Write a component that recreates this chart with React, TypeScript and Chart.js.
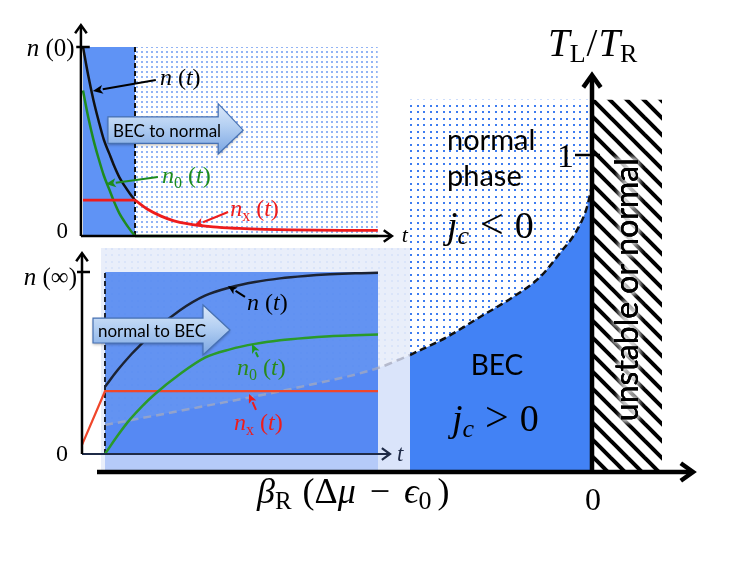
import React, { useEffect, useRef } from "react";
import { Chart, registerables } from "chart.js";
Chart.register(...registerables);

const W = 747;
const H = 561;
const SERIF = '"Liberation Serif", "DejaVu Serif", serif';
const SANS = 'Lato, "Open Sans", sans-serif';

// ---- Main phase diagram: x = beta_R (dmu - eps0), y = T_L / T_R ----
const BOUNDARY_X = [-4.87, -3.92, -2.92, -2.14, -1.82, -1.45, -1.12, -0.79, -0.52, -0.32, -0.15, -0.05, 0];
const BOUNDARY_Y = [0.148, 0.205, 0.268, 0.328, 0.369, 0.426, 0.489, 0.552, 0.615, 0.691, 0.763, 0.836, 0.905];
const INSET_EDGE_INDEX = 4; // boundary point where the lower inset panel ends
const INSET_BOX_INDEX = 3; // boundary point at the right edge of the inset's blue box
const NORMAL_TOP = 1.174;
const HATCH_RIGHT = 0.7;
const INSET_PANEL_X = [-4.91, -1.82];
const INSET_PANEL_TOP = 0.707;
const INSET_PANEL_BOTTOM = 0.006;

// ---- Top inset: BEC to normal ----
const TOP_T = [0, 0.1, 0.2, 0.3, 0.4, 0.5, 0.6, 0.7, 0.8, 0.9, 1.0];
const TOP_N = [1.0, 0.85, 0.72, 0.61, 0.51, 0.44, 0.37, 0.31, 0.265, 0.225, 0.19];
const TOP_N0 = [0.77, 0.63, 0.51, 0.41, 0.32, 0.25, 0.18, 0.12, 0.075, 0.035, 0];
const TOP_N0_TAIL_T = [1.0, 5.67];
const TOP_N0_TAIL = [0, 0];
const TOP_NX_FLAT_T = [0, 1.0];
const TOP_NX_FLAT = [0.19, 0.19];
const TOP_NX_T = [1.0, 1.25, 1.5, 1.75, 2.0, 2.5, 3.0, 3.5, 4.0, 5.0, 5.67];
const TOP_NX = [0.19, 0.14, 0.105, 0.08, 0.065, 0.048, 0.04, 0.035, 0.032, 0.03, 0.03];
const TOP_TC = 1.0;
const TOP_TEND = 5.67;

// ---- Bottom inset: normal to BEC ----
const BOT_T = [0, 0.25, 0.5, 0.75, 1.0, 1.5, 2.0, 2.5, 3.0, 3.5, 4.0, 4.5, 5.0, 5.46];
const BOT_N = [0.37, 0.46, 0.54, 0.61, 0.68, 0.79, 0.87, 0.915, 0.945, 0.965, 0.978, 0.987, 0.993, 0.996];
const BOT_N0 = [0, 0.1, 0.19, 0.265, 0.33, 0.44, 0.53, 0.575, 0.605, 0.625, 0.638, 0.647, 0.652, 0.656];
const BOT_NX_T = [-0.46, 0, 5.46];
const BOT_NX = [0.05, 0.345, 0.345];
const BOT_TEND = 5.46;

function rangeX(p0: number, v0: number, p1: number, v1: number) {
  const k = (p1 - p0) / (v1 - v0);
  const min = v0 - p0 / k;
  return { min, max: min + W / k };
}
function rangeY(p0: number, v0: number, p1: number, v1: number) {
  const k = (p0 - p1) / (v1 - v0);
  const max = v0 + p0 / k;
  return { min: max - H / k, max };
}

type Seg = { t: string; it?: boolean; sz?: number; dy?: number; gap?: number };
function rich(ctx: CanvasRenderingContext2D, x: number, y: number, segs: Seg[], base: number, color: string, align = "left") {
  const f = (s: Seg) => `${s.it ? "italic " : ""}${s.sz || base}px ${SERIF}`;
  let w = 0;
  for (const s of segs) {
    ctx.font = f(s);
    w += ctx.measureText(s.t).width + (s.gap || 0);
  }
  let cx = align === "left" ? x : align === "center" ? x - w / 2 : x - w;
  ctx.fillStyle = color;
  ctx.textAlign = "left";
  ctx.textBaseline = "alphabetic";
  for (const s of segs) {
    ctx.font = f(s);
    cx += s.gap || 0;
    ctx.fillText(s.t, cx, y + (s.dy || 0));
    cx += ctx.measureText(s.t).width;
  }
}

function axisArrow(ctx: CanvasRenderingContext2D, x0: number, y0: number, x1: number, y1: number, lw: number, head: number, color: string) {
  const a = Math.atan2(y1 - y0, x1 - x0);
  ctx.strokeStyle = color;
  ctx.lineWidth = lw;
  ctx.lineCap = "butt";
  ctx.beginPath();
  ctx.moveTo(x0, y0);
  ctx.lineTo(x1 - Math.cos(a) * lw * 0.5, y1 - Math.sin(a) * lw * 0.5);
  ctx.stroke();
  ctx.lineJoin = "miter";
  ctx.beginPath();
  ctx.moveTo(x1 + head * Math.cos(a + Math.PI - 0.62), y1 + head * Math.sin(a + Math.PI - 0.62));
  ctx.lineTo(x1, y1);
  ctx.lineTo(x1 + head * Math.cos(a + Math.PI + 0.62), y1 + head * Math.sin(a + Math.PI + 0.62));
  ctx.stroke();
}

function pointer(ctx: CanvasRenderingContext2D, x0: number, y0: number, x1: number, y1: number, color: string, lw = 2, head = 9) {
  const a = Math.atan2(y1 - y0, x1 - x0);
  const bx = x1 - head * Math.cos(a);
  const by = y1 - head * Math.sin(a);
  ctx.strokeStyle = color;
  ctx.lineWidth = lw;
  ctx.beginPath();
  ctx.moveTo(x0, y0);
  ctx.lineTo(bx, by);
  ctx.stroke();
  ctx.fillStyle = color;
  const hw = head * 0.45;
  ctx.beginPath();
  ctx.moveTo(x1, y1);
  ctx.lineTo(bx + hw * Math.sin(a), by - hw * Math.cos(a));
  ctx.lineTo(bx + head * 0.25 * Math.cos(a), by + head * 0.25 * Math.sin(a));
  ctx.lineTo(bx - hw * Math.sin(a), by + hw * Math.cos(a));
  ctx.closePath();
  ctx.fill();
}

function blockArrow(ctx: CanvasRenderingContext2D, xl: number, xb: number, xt: number, yTop: number, yBot: number, hTop: number, hBot: number, yc: number, label: string) {
  const g = ctx.createLinearGradient(0, hTop, 0, hBot);
  g.addColorStop(0, "#dce9fa");
  g.addColorStop(0.45, "#b3cff2");
  g.addColorStop(1, "#7aa5e2");
  ctx.save();
  ctx.shadowColor = "rgba(0,0,0,0.3)";
  ctx.shadowBlur = 3;
  ctx.shadowOffsetY = 1.5;
  ctx.beginPath();
  ctx.moveTo(xl, yTop);
  ctx.lineTo(xb, yTop);
  ctx.lineTo(xb, hTop);
  ctx.lineTo(xt, yc);
  ctx.lineTo(xb, hBot);
  ctx.lineTo(xb, yBot);
  ctx.lineTo(xl, yBot);
  ctx.closePath();
  ctx.fillStyle = g;
  ctx.fill();
  ctx.restore();
  ctx.strokeStyle = "#4671b3";
  ctx.lineWidth = 1.2;
  ctx.stroke();
  ctx.fillStyle = "#000";
  ctx.font = `17px ${SANS}`;
  ctx.textAlign = "center";
  ctx.textBaseline = "middle";
  ctx.fillText(label, (xl + xb) / 2 + 4, (yTop + yBot) / 2 + 1);
}

const pts = (xs: number[], ys: number[]) => xs.map((x, i) => ({ x, y: ys[i] }));

export default function App() {
  const ref = useRef<HTMLCanvasElement>(null);

  useEffect(() => {
    const cv = ref.current!;
    const ctx = cv.getContext("2d")!;

    const mk = (size: number, draw: (g: CanvasRenderingContext2D) => void) => {
      const c = document.createElement("canvas");
      c.width = size;
      c.height = size;
      const g = c.getContext("2d")!;
      draw(g);
      return ctx.createPattern(c, "repeat")!;
    };
    const mainDots = mk(13, (g) => {
      g.fillStyle = "#3d7cf0";
      for (const a of [1, 7]) for (const b of [1, 7]) g.fillRect(a, b, 2, 2);
    });
    const topDots = mk(5, (g) => {
      g.fillStyle = "#92b4f5";
      g.fillRect(1, 1, 2, 2);
    });
    const hatch = mk(17, (g) => {
      g.fillStyle = "#fff";
      g.fillRect(0, 0, 17, 17);
      g.strokeStyle = "#000";
      g.lineWidth = 4;
      for (const o of [-17, 0, 17]) {
        g.beginPath();
        g.moveTo(o - 3, -3);
        g.lineTo(o + 20, 20);
        g.stroke();
      }
    });

    const upper = pts(BOUNDARY_X.slice(INSET_EDGE_INDEX), BOUNDARY_Y.slice(INSET_EDGE_INDEX));
    const lower = pts(BOUNDARY_X.slice(0, INSET_EDGE_INDEX + 1), BOUNDARY_Y.slice(0, INSET_EDGE_INDEX + 1));
    const inBox = pts(BOUNDARY_X.slice(0, INSET_BOX_INDEX + 1), BOUNDARY_Y.slice(0, INSET_BOX_INDEX + 1));
    const full = pts(BOUNDARY_X, BOUNDARY_Y);

    const base = { pointRadius: 0, borderWidth: 0, borderColor: "transparent", fill: false, tension: 0 };
    const M = { xAxisID: "x", yAxisID: "y" };
    const TI = { xAxisID: "xt", yAxisID: "yt" };
    const BI = { xAxisID: "xb", yAxisID: "yb" };
    const smooth = { cubicInterpolationMode: "monotone" as const };

    const layers: any[] = [
      { ...base, ...M, data: upper, fill: { value: NORMAL_TOP }, backgroundColor: mainDots },
      { ...base, ...M, data: lower, fill: { value: INSET_PANEL_TOP }, backgroundColor: mainDots },
      { ...base, ...M, ...smooth, data: full, fill: "origin", backgroundColor: "#4282f5" },
      { ...base, ...M, data: pts([0, HATCH_RIGHT], [NORMAL_TOP, NORMAL_TOP]), fill: { value: 0 }, backgroundColor: hatch },
      { ...base, ...M, ...smooth, data: upper, borderColor: "#111", borderWidth: 2.5, borderDash: [7, 4] },
      // lower inset panel
      { ...base, ...M, data: pts(INSET_PANEL_X, [INSET_PANEL_TOP, INSET_PANEL_TOP]), fill: { value: INSET_PANEL_BOTTOM }, backgroundColor: "rgba(231,237,250,0.92)" },
      { ...base, ...BI, data: pts([0, BOT_TEND], [1, 1]), fill: { value: 0 }, backgroundColor: "rgba(62,122,240,0.78)" },
      { ...base, ...M, ...smooth, data: inBox, fill: "origin", backgroundColor: "rgba(50,110,245,0.22)" },
      { ...base, ...M, ...smooth, data: lower, borderColor: "rgba(165,170,190,0.75)", borderWidth: 2.5, borderDash: [8, 5] },
      { ...base, ...BI, data: pts([0, 0], [0, 1]), borderColor: "#1c2333", borderWidth: 2, borderDash: [5, 3] },
      { ...base, ...BI, data: pts(BOT_NX_T, BOT_NX), borderColor: "#f0462a", borderWidth: 2.2 },
      { ...base, ...BI, ...smooth, data: pts(BOT_T, BOT_N0), borderColor: "#2a9a2a", borderWidth: 2.5 },
      { ...base, ...BI, ...smooth, data: pts(BOT_T, BOT_N), borderColor: "#1c2333", borderWidth: 2.5 },
      // top inset
      { ...base, ...TI, data: pts([0, TOP_TC], [1, 1]), fill: { value: 0 }, backgroundColor: "#5f93f5" },
      { ...base, ...TI, data: pts([TOP_TC, TOP_TEND], [1, 1]), fill: { value: 0 }, backgroundColor: topDots },
      { ...base, ...TI, data: pts([TOP_TC, TOP_TC], [0, 1]), borderColor: "#111", borderWidth: 2, borderDash: [5, 3] },
      { ...base, ...TI, ...smooth, data: pts(TOP_T, TOP_N), borderColor: "#111", borderWidth: 2.5 },
      { ...base, ...TI, data: pts(TOP_N0_TAIL_T, TOP_N0_TAIL), borderColor: "#1e8c1e", borderWidth: 2.5 },
      { ...base, ...TI, ...smooth, data: pts(TOP_T, TOP_N0), borderColor: "#1e8c1e", borderWidth: 2.5 },
      { ...base, ...TI, data: pts(TOP_NX_FLAT_T, TOP_NX_FLAT), borderColor: "#ee1c1c", borderWidth: 2.8 },
      { ...base, ...TI, ...smooth, data: pts(TOP_NX_T, TOP_NX), borderColor: "#ee1c1c", borderWidth: 2.8 },
    ];
    layers.forEach((d, i) => (d.order = -i));

    const decor = {
      id: "decor",
      afterDatasetsDraw(chart: any) {
        const c: CanvasRenderingContext2D = chart.ctx;
        const s = chart.scales;
        const m = (x: number, y: number) => [s.x.getPixelForValue(x), s.y.getPixelForValue(y)];
        const t = (x: number, y: number) => [s.xt.getPixelForValue(x), s.yt.getPixelForValue(y)];
        const b = (x: number, y: number) => [s.xb.getPixelForValue(x), s.yb.getPixelForValue(y)];
        c.save();

        // --- main axes ---
        let p = m(-4.95, 0), q = m(1.01, 0);
        axisArrow(c, p[0], p[1], q[0], q[1], 4.5, 15, "#000");
        p = m(0, 0); q = m(0, 1.252);
        axisArrow(c, p[0], p[1], q[0], q[1], 4.5, 15, "#000");
        p = m(-0.17, 1); q = m(0.08, 1);
        c.lineWidth = 2.5;
        c.beginPath(); c.moveTo(p[0], p[1]); c.lineTo(q[0], q[1]); c.stroke();

        p = m(-0.44, 1.312);
        rich(c, p[0], p[1], [{ t: "T", it: true }, { t: "L", sz: 26, dy: 6 }, { t: "/", gap: 1 }, { t: "T", it: true, gap: 1 }, { t: "R", sz: 26, dy: 6 }], 39, "#000");
        p = m(-0.18, 0.962);
        rich(c, p[0], p[1], [{ t: "1" }], 34, "#000", "right");
        p = m(0.01, -0.12);
        rich(c, p[0], p[1], [{ t: "0" }], 32, "#000", "center");
        p = m(-3.35, -0.098);
        rich(c, p[0], p[1], [
          { t: "β", it: true }, { t: "R", sz: 25, dy: 6 }, { t: "(", gap: 11 }, { t: "Δ" }, { t: "μ", it: true },
          { t: "−", gap: 14 }, { t: "ϵ", it: true, gap: 14 }, { t: "0", sz: 26, dy: 6 }, { t: ")", gap: 6 },
        ], 36, "#000");

        c.fillStyle = "#000";
        c.textAlign = "left";
        c.textBaseline = "alphabetic";
        c.font = `29px ${SANS}`;
        p = m(-1.45, 1.016); c.fillText("normal", p[0], p[1]);
        p = m(-1.45, 0.902); c.fillText("phase", p[0], p[1]);
        p = m(-1.45, 0.738);
        rich(c, p[0], p[1], [{ t: "j", it: true }, { t: "c", it: true, sz: 26, dy: 6 }, { t: "<", gap: 11, sz: 42 }, { t: "0", gap: 11 }], 38, "#000");
        c.font = `28px ${SANS}`;
        c.textAlign = "center";
        p = m(-0.95, 0.306); c.fillText("BEC", p[0], p[1]);
        p = m(-1.4, 0.129);
        rich(c, p[0], p[1], [{ t: "j", it: true }, { t: "c", it: true, sz: 26, dy: 6 }, { t: ">", gap: 11, sz: 42 }, { t: "0", gap: 11 }], 38, "#000");

        // rotated label in hatched region
        p = m(0.36, 0.575);
        c.save();
        c.translate(p[0], p[1]);
        c.rotate(-Math.PI / 2);
        c.font = `32px ${SANS}`;
        c.textAlign = "center";
        c.textBaseline = "middle";
        c.shadowColor = "#fff";
        c.shadowBlur = 6;
        c.fillStyle = "#000";
        for (let k = 0; k < 4; k++) c.fillText("unstable or normal", 0, 0);
        c.shadowBlur = 0;
        c.fillText("unstable or normal", 0, 0);
        c.restore();

        // --- top inset ---
        p = t(-0.04, 0); q = t(5.94, 0);
        axisArrow(c, p[0], p[1], q[0], q[1], 2.5, 10, "#000");
        q = t(-0.04, 1.116);
        axisArrow(c, p[0], p[1], q[0], q[1], 2.5, 10, "#000");
        p = t(-0.13, 1); q = t(0.13, 1);
        c.strokeStyle = "#000"; c.lineWidth = 2.5;
        c.beginPath(); c.moveTo(p[0], p[1]); c.lineTo(q[0], q[1]); c.stroke();
        p = t(-0.16, 0.95);
        rich(c, p[0], p[1], [{ t: "n", it: true }, { t: " (0)" }], 25, "#000", "right");
        p = t(-0.29, -0.01);
        rich(c, p[0], p[1], [{ t: "0" }], 23, "#000", "right");
        p = t(6.13, -0.03);
        rich(c, p[0], p[1], [{ t: "t", it: true }], 22, "#000");

        p = t(1.48, 0.8);
        rich(c, p[0], p[1], [{ t: "n", it: true }, { t: " (" }, { t: "t", it: true }, { t: ")" }], 24, "#000");
        p = t(1.4, 0.825); q = t(0.19, 0.767);
        pointer(c, p[0], p[1], q[0], q[1], "#000", 2, 10);
        p = t(1.52, 0.28);
        rich(c, p[0], p[1], [{ t: "n", it: true }, { t: "0", sz: 16, dy: 5 }, { t: " (" }, { t: "t", it: true }, { t: ")" }], 24, "#1e8c1e");
        p = t(1.44, 0.312); q = t(0.44, 0.275);
        pointer(c, p[0], p[1], q[0], q[1], "#1e8c1e", 2, 10);
        p = t(2.83, 0.106);
        rich(c, p[0], p[1], [{ t: "n", it: true }, { t: "x", sz: 16, dy: 5 }, { t: " (" }, { t: "t", it: true }, { t: ")" }], 24, "#ee1c1c");
        p = t(2.79, 0.127); q = t(2.13, 0.053);
        pointer(c, p[0], p[1], q[0], q[1], "#ee1c1c", 2, 10);

        {
          const [xl, yTop] = t(0.48, 0.63);
          const [xb, yBot] = t(2.6, 0.49);
          const [xt, yc] = t(3.08, 0.56);
          const hTop = t(0, 0.7)[1];
          const hBot = t(0, 0.434)[1];
          blockArrow(c, xl, xb, xt, yTop, yBot, hTop, hBot, yc, "BEC to normal");
        }

        // --- bottom inset ---
        p = b(-0.46, 0); q = b(5.7, 0);
        axisArrow(c, p[0], p[1], q[0], q[1], 2.2, 10, "#1f2b47");
        q = b(-0.46, 1.104);
        axisArrow(c, p[0], p[1], q[0], q[1], 2.5, 10, "#000");
        p = b(-0.56, 1); q = b(-0.3, 1);
        c.strokeStyle = "#000"; c.lineWidth = 2.5;
        c.beginPath(); c.moveTo(p[0], p[1]); c.lineTo(q[0], q[1]); c.stroke();
        p = b(-0.56, 0.93);
        rich(c, p[0], p[1], [{ t: "n", it: true }, { t: " (∞)" }], 25, "#000", "right");
        p = b(-0.74, -0.04);
        rich(c, p[0], p[1], [{ t: "0" }], 24, "#000", "right");
        p = b(5.84, -0.04);
        rich(c, p[0], p[1], [{ t: "t", it: true }], 23, "#1f2b47");

        p = b(2.84, 0.79);
        rich(c, p[0], p[1], [{ t: "n", it: true }, { t: " (" }, { t: "t", it: true }, { t: ")" }], 24, "#000");
        p = b(2.8, 0.863); q = b(2.46, 0.923);
        pointer(c, p[0], p[1], q[0], q[1], "#000", 2, 9);
        p = b(2.64, 0.434);
        rich(c, p[0], p[1], [{ t: "n", it: true }, { t: "0", sz: 16, dy: 5 }, { t: " (" }, { t: "t", it: true }, { t: ")" }], 24, "#2a8a1a");
        p = b(3.06, 0.533); q = b(2.94, 0.604);
        pointer(c, p[0], p[1], q[0], q[1], "#1e9a1e", 2, 9);
        p = b(2.58, 0.132);
        rich(c, p[0], p[1], [{ t: "n", it: true }, { t: "x", sz: 16, dy: 5 }, { t: " (" }, { t: "t", it: true }, { t: ")" }], 24, "#ee1c1c");
        p = b(3.02, 0.242); q = b(2.88, 0.33);
        pointer(c, p[0], p[1], q[0], q[1], "#ee1c1c", 2, 9);

        {
          const [xl, yTop] = b(-0.24, 0.747);
          const [xb, yBot] = b(1.96, 0.61);
          const [xt, yc] = b(2.5, 0.681);
          const hTop = b(0, 0.819)[1];
          const hBot = b(0, 0.544)[1];
          blockArrow(c, xl, xb, xt, yTop, yBot, hTop, hBot, yc, "normal to BEC");
        }

        c.restore();
      },
    };

    const hidden = (r: { min: number; max: number }) => ({ type: "linear" as const, display: false, min: r.min, max: r.max });

    const chart = new Chart(ctx, {
      type: "line",
      data: { datasets: layers },
      options: {
        responsive: false,
        animation: false,
        events: [],
        layout: { padding: 0 },
        plugins: { legend: { display: false }, tooltip: { enabled: false } },
        scales: {
          x: hidden(rangeX(592, 0, 692, 1)),
          y: hidden(rangeY(472, 0, 155, 1)),
          xt: hidden(rangeX(83, 0, 135, 1)),
          yt: hidden(rangeY(236, 0, 47, 1)),
          xb: hidden(rangeX(105, 0, 155, 1)),
          yb: hidden(rangeY(454, 0, 272, 1)),
        },
      },
      plugins: [decor],
    });
    return () => chart.destroy();
  }, []);

  return (
    <div style={{ position: "absolute", left: 0, top: 0, width: W, height: H, background: "#fff" }}>
      <canvas ref={ref} width={W} height={H} style={{ display: "block", width: W, height: H }} />
    </div>
  );
}
